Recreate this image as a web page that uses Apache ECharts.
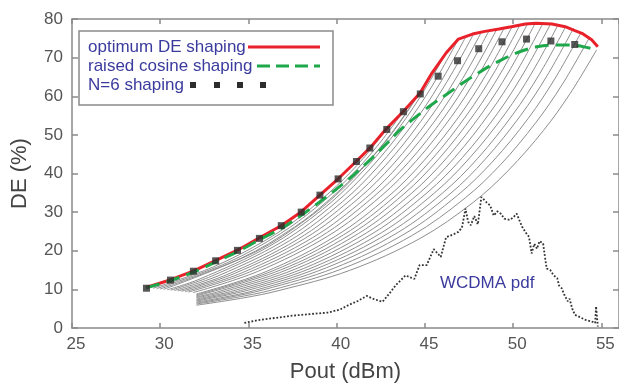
<!DOCTYPE html>
<html><head><meta charset="utf-8">
<script src="https://cdn.jsdelivr.net/npm/echarts@6/dist/echarts.min.js"></script>
<style>html,body{margin:0;padding:0;background:#fff}#c{width:619px;height:388px}</style>
</head><body><div id="c"></div>
<script>
// ---- data (Pout dBm, DE %) ----
const optimumDE = [[29.2,10.5],[30.6,12.5],[31.9,14.8],[33.1,17.4],[34.4,20.2],[35.6,23.3],[36.9,26.6],[38.0,30.1],[39.0,34.2],[40.1,38.7],[41.1,43.1],[41.9,46.7],[42.8,51.5],[43.8,56.2],[44.75,61.0],[45.4,66.0],[46.2,71.2],[46.9,74.8],[47.7,76.1],[48.4,76.8],[49.2,77.4],[49.9,78.0],[50.7,78.7],[51.3,78.9],[52.2,78.7],[52.95,78.0],[53.5,77.0],[53.9,76.3],[54.45,74.6],[54.8,72.8]];
const raisedCosine = [[29.2,10.4],[30.6,12.3],[31.9,14.5],[33.1,17.0],[34.4,19.8],[35.6,22.8],[36.9,25.9],[38.0,29.2],[39.0,32.5],[40.0,36.0],[41.0,39.8],[42.0,44.0],[43.0,48.5],[43.5,50.9],[44.26,53.8],[45.2,57.2],[46.26,60.6],[47.3,63.9],[48.33,66.9],[49.37,69.5],[50.3,71.4],[51.44,72.9],[52.57,73.3],[53.7,73.1],[54.73,72.0]];
const n6Shaping = [[29.22,10.3],[30.58,12.4],[31.88,14.7],[33.14,17.4],[34.38,20.1],[35.62,23.2],[36.86,26.5],[37.99,30.0],[39.05,34.4],[40.08,38.6],[41.12,43.1],[41.88,46.6],[42.84,51.4],[43.78,56.0],[44.74,60.6],[45.75,65.2],[46.85,69.2],[48.05,72.3],[49.37,74.1],[50.76,74.8],[52.14,74.3],[53.49,73.4]];
const wcdmaPdf = [[34.77,1.3],[35.5,2.0],[36.5,2.6],[37.5,3.2],[38.5,3.6],[39.5,4.0],[40.2,4.8],[40.7,6.0],[41.2,7.0],[41.7,8.3],[42.1,7.5],[42.6,6.8],[43.0,9.0],[43.35,11.1],[43.9,13.6],[44.4,12.7],[44.7,16.3],[45.1,16.3],[45.5,20.4],[45.9,18.4],[46.2,23.5],[46.6,24.2],[46.9,24.9],[47.1,26.0],[47.3,30.9],[47.45,27.5],[47.6,26.6],[47.8,29.0],[48.0,26.8],[48.2,33.9],[48.5,32.5],[48.7,31.7],[48.9,29.1],[49.1,30.2],[49.3,29.6],[49.5,28.3],[49.8,28.0],[50.0,28.6],[50.2,29.6],[50.5,26.3],[50.7,24.8],[50.9,23.6],[51.05,19.3],[51.2,21.8],[51.35,20.5],[51.5,22.5],[51.7,21.9],[51.8,18.5],[51.9,15.4],[52.1,15.0],[52.3,13.6],[52.5,12.9],[52.6,11.0],[52.75,10.3],[52.9,8.6],[53.1,6.9],[53.2,7.6],[53.35,5.0],[53.5,3.4],[53.7,3.0],[54.1,2.1],[54.45,1.7],[54.65,1.3],[54.7,5.6],[54.8,0.4]];
const fan01 = [[29.6,10.3],[33,15.8],[36,22.8],[38,29.0],[40,36.8],[41.5,43.9],[43,52.4]];
const fan02 = [[29.8,10.2],[33.8,16.9],[36.8,24.4],[38.8,31.1],[40.8,39.4],[42.3,47.1],[43.8,56.2]];
const fan03 = [[30,10.1],[34.6,18.1],[37.6,26.1],[39.6,33.3],[41.6,42.2],[43.1,50.4],[44.6,60.2]];
const fan04 = [[30.2,10],[35.4,19.7],[38.4,28.5],[40.4,36.3],[42.4,46.2],[43.9,55.3],[45.4,66]];
const fan05 = [[30.4,9.9],[32.2,12.6],[36.2,21.2],[39.2,30.7],[41.2,39.2],[43.2,49.8],[44.7,59.6],[46.2,71.2]];
const fan06 = [[30.6,9.8],[32.9,13.4],[36.9,22.3],[39.9,32.3],[41.9,41.2],[43.9,52.4],[45.4,62.6],[46.9,74.8]];
const fan07 = [[30.8,9.7],[33.33,13.6],[37.33,22.6],[40.33,32.7],[42.33,41.7],[44.33,52.9],[45.83,63.2],[47.33,75.5]];
const fan08 = [[31,9.6],[33.77,13.8],[37.77,22.9],[40.77,33.1],[42.77,42.1],[44.77,53.5],[46.27,63.9],[47.77,76.2]];
const fan09 = [[31.2,9.5],[34.2,14.1],[38.2,23.2],[41.2,33.4],[43.2,42.4],[45.2,53.8],[46.7,64.2],[48.2,76.6]];
const fan10 = [[31.4,9.4],[34.64,14.3],[38.64,23.4],[41.64,33.6],[43.64,42.7],[45.64,54.1],[47.14,64.6],[48.64,77]];
const fan11 = [[31.6,9.3],[35.07,14.5],[39.07,23.6],[42.07,33.9],[44.07,42.9],[46.07,54.4],[47.57,64.9],[49.07,77.3]];
const fan12 = [[31.85,9.15],[35.5,14.6],[39.5,23.8],[42.5,34.1],[44.5,43.2],[46.5,54.7],[48,65.2],[49.5,77.7]];
const fan13 = [[32.05,8.8],[35.94,14.5],[39.94,23.8],[42.94,34.1],[44.94,43.3],[46.94,54.8],[48.44,65.4],[49.94,78]];
const fan14 = [[32.05,8.55],[36.38,14.8],[40.38,24.1],[43.38,34.4],[45.38,43.6],[47.38,55.2],[48.88,65.8],[50.38,78.4]];
const fan15 = [[32.05,8.3],[36.81,15.0],[40.81,24.3],[43.81,34.7],[45.81,43.9],[47.81,55.5],[49.31,66.1],[50.81,78.7]];
const fan16 = [[32.05,8.05],[33.25,9.35],[37.25,15.2],[41.25,24.5],[44.25,34.9],[46.25,44.1],[48.25,55.7],[49.75,66.3],[51.25,78.9]];
const fan17 = [[32.05,7.8],[33.68,9.5],[37.68,15.3],[41.68,24.6],[44.68,34.9],[46.68,44.1],[48.68,55.7],[50.18,66.2],[51.68,78.8]];
const fan18 = [[32.05,7.5],[34.12,9.6],[38.12,15.4],[42.12,24.7],[45.12,35.0],[47.12,44.1],[49.12,55.6],[50.62,66.2],[52.12,78.7]];
const fan19 = [[32.05,7.25],[34.55,9.7],[38.55,15.5],[42.55,24.7],[45.55,35.0],[47.55,44.1],[49.55,55.5],[51.05,66.0],[52.55,78.5]];
const fan20 = [[32.05,7.0],[34.99,9.8],[38.99,15.6],[42.99,24.7],[45.99,34.9],[47.99,43.9],[49.99,55.3],[51.49,65.7],[52.99,78.1]];
const fan21 = [[32.05,6.7],[33.42,7.8],[35.42,9.8],[39.42,15.6],[43.42,24.6],[46.42,34.7],[48.42,43.7],[50.42,55.0],[51.92,65.3],[53.42,77.6]];
const fan22 = [[32.05,6.45],[33.86,7.9],[35.86,9.9],[39.86,15.5],[43.86,24.4],[46.86,34.4],[48.86,43.2],[50.86,54.3],[52.36,64.5],[53.86,76.6]];
const fan23 = [[32.05,6.2],[34.29,7.9],[36.29,9.8],[40.29,15.3],[44.29,24.0],[47.29,33.7],[49.29,42.3],[51.29,53.2],[52.79,63.1],[54.29,74.9]];
const fan24 = [[32.05,5.9],[34.73,7.8],[36.73,9.7],[40.73,14.9],[44.73,23.2],[47.73,32.5],[49.73,40.8],[51.73,51.2],[53.23,60.7],[54.73,72]];
const legendNames = ['optimum DE shaping','raised cosine shaping','N=6 shaping'];
const pdfLabel = 'WCDMA pdf';

// ---- chart ----
const FONT = '"Liberation Sans", Arial, sans-serif';
const AXC = '#8a8a8a';
const BLUE = '#3b3b9e';
const fans = [fan01,fan02,fan03,fan04,fan05,fan06,fan07,fan08,fan09,fan10,fan11,fan12,fan13,fan14,fan15,fan16,fan17,fan18,fan19,fan20,fan21,fan22,fan23,fan24];
const series = fans.map((d,i)=>({type:'line', name:'fan'+(i+1), data:d, symbol:'none', smooth:0.35, silent:true,
  lineStyle:{color:'#8e8e8e', width:1}, z:1}));
series.push({type:'line', name:pdfLabel, data:wcdmaPdf, symbol:'none', silent:true, lineStyle:{color:'#333', width:1.8, type:'dotted'}, z:2});
series.push({type:'line', name:legendNames[0], data:optimumDE, symbol:'none', silent:true, lineStyle:{color:'#e8212a', width:3}, z:3});
series.push({type:'line', name:legendNames[1], data:raisedCosine, symbol:'none', smooth:0.3, silent:true, lineStyle:{color:'#1ea84b', width:3, type:[14,7]}, z:4});
series.push({type:'scatter', name:legendNames[2], data:n6Shaping, symbol:'rect', symbolSize:7, silent:true, itemStyle:{color:'#2d2d2d'}, z:5});

const axLine = {show:true, onZero:false, lineStyle:{color:AXC, width:1.5}};
const axTick = (len)=>({show:true, inside:true, length:len, lineStyle:{color:AXC, width:1.5}});
const chart = echarts.init(document.getElementById('c'));
chart.setOption({
  animation:false,
  backgroundColor:'#fff',
  grid:{left:72, top:19, right:-2, bottom:58},
  xAxis:[
    {type:'value', min:25, max:56, interval:5, position:'bottom', axisLine:axLine, axisTick:axTick(5),
     axisLabel:{showMaxLabel:false, color:'#555', fontSize:17, fontFamily:FONT, margin:8, padding:[0,0,0,8]},
     splitLine:{show:false}, name:'Pout (dBm)', nameLocation:'middle', nameGap:33,
     nameTextStyle:{color:'#444', fontSize:22, fontFamily:FONT}},
    {type:'value', min:25, max:56, interval:5, position:'top', axisLine:axLine, axisTick:axTick(5),
     axisLabel:{show:false}, splitLine:{show:false}}
  ],
  yAxis:[
    {type:'value', min:0, max:80, interval:10, position:'left', axisLine:axLine, axisTick:axTick(6),
     axisLabel:{color:'#555', fontSize:17, fontFamily:FONT, margin:9}, splitLine:{show:false},
     name:'DE (%)', nameLocation:'middle', nameGap:41, nameRotate:90,
     nameTextStyle:{color:'#444', fontSize:22, fontFamily:FONT}},
    {type:'value', min:0, max:80, interval:10, position:'right', axisLine:axLine, axisTick:axTick(6),
     axisLabel:{show:false}, splitLine:{show:false}}
  ],
  series:series,
  graphic:[
    {type:'rect', shape:{x:79, y:31, width:254, height:74}, style:{fill:'#fff', stroke:AXC, lineWidth:1.5}, z:10},
    {type:'text', x:88, y:47, style:{text:legendNames[0], fill:BLUE, fontSize:17, fontFamily:FONT, verticalAlign:'middle'}, z:11},
    {type:'text', x:88, y:66, style:{text:legendNames[1], fill:BLUE, fontSize:17, fontFamily:FONT, verticalAlign:'middle'}, z:11},
    {type:'text', x:88, y:85, style:{text:legendNames[2], fill:BLUE, fontSize:17, fontFamily:FONT, verticalAlign:'middle'}, z:11},
    {type:'line', shape:{x1:248, y1:47, x2:320, y2:47}, style:{stroke:'#e8212a', lineWidth:3}, z:11},
    {type:'line', shape:{x1:257, y1:66, x2:320, y2:66}, style:{stroke:'#1ea84b', lineWidth:3, lineDash:[13,6]}, z:11},
    {type:'rect', shape:{x:190, y:82, width:6, height:6}, style:{fill:'#2d2d2d'}, z:11},
    {type:'rect', shape:{x:214, y:82, width:6, height:6}, style:{fill:'#2d2d2d'}, z:11},
    {type:'rect', shape:{x:237, y:82, width:6, height:6}, style:{fill:'#2d2d2d'}, z:11},
    {type:'rect', shape:{x:260, y:82, width:6, height:6}, style:{fill:'#2d2d2d'}, z:11},
    {type:'text', x:440, y:283, style:{text:pdfLabel, fill:BLUE, fontSize:17, fontFamily:FONT, verticalAlign:'middle'}, z:11}
  ]
});
</script></body></html>
